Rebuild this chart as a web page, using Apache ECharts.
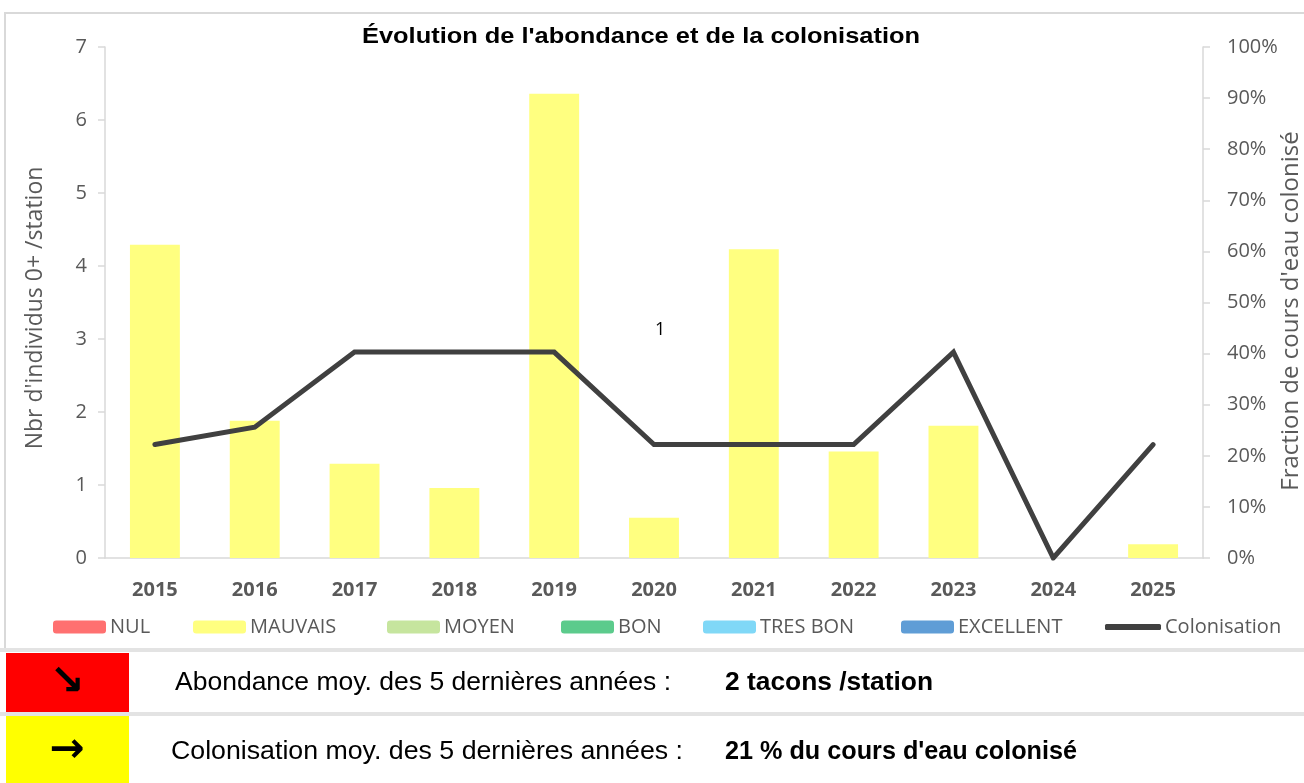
<!DOCTYPE html>
<html>
<head>
<meta charset="utf-8">
<script src="https://cdn.jsdelivr.net/npm/echarts@6/dist/echarts.min.js"></script>
<style>
  html, body { margin: 0; padding: 0; background: #fff; }
  #chart { width: 1304px; height: 783px; }
</style>
</head>
<body>
<div id="chart"></div>
<script>
// data
var years = ['2015', '2016', '2017', '2018', '2019', '2020', '2021', '2022', '2023', '2024', '2025'];
var abondance = [4.29, 1.88, 1.29, 0.96, 6.36, 0.55, 4.23, 1.46, 1.81, 0, 0.19];
var colonisation = [0.222, 0.256, 0.403, 0.403, 0.403, 0.222, 0.222, 0.222, 0.403, 0, 0.222];
var classes = ['NUL', 'MAUVAIS', 'MOYEN', 'BON', 'TRES BON', 'EXCELLENT'];
var classColors = ['#FF7070', '#FFFF80', '#C6E59E', '#5CCB8C', '#80D8F7', '#5F9DD6'];
var legendLeft = [48, 188, 382, 556, 698, 896, 1100];

var grey = '#595959';
var chart = echarts.init(document.getElementById('chart'));

// Calibri is not there: squeeze/stretch a Liberation text to the width seen in the picture
var ctx = document.createElement('canvas').getContext('2d');
function fitText(txt, x, y, size, bold, width, align) {
  ctx.font = (bold ? 'bold ' : '') + size + 'px "Liberation Sans"';
  var w = ctx.measureText(txt).width;
  return {
    type: 'text',
    x: x,
    y: y,
    scaleX: width / w,
    style: {
      text: txt, fill: '#000', fontSize: size, fontWeight: bold ? 'bold' : 'normal',
      fontFamily: 'Liberation Sans', align: align || 'left', verticalAlign: 'middle'
    }
  };
}

// vertical axis titles, placed by hand
function axisTitle(txt, x, y, size) {
  return {
    type: 'text',
    x: x,
    y: y,
    rotation: Math.PI / 2,
    style: { text: txt, fill: grey, fontSize: size, fontFamily: 'Open Sans', align: 'center', verticalAlign: 'middle' }
  };
}

var series = classes.map(function (name, i) {
  return {
    name: name,
    type: 'bar',
    stack: 'abondance',
    barWidth: '50%',
    itemStyle: { color: classColors[i] },
    data: name === 'MAUVAIS' ? abondance : []
  };
});
series.push({
  name: 'Colonisation',
  type: 'line',
  yAxisIndex: 1,
  showSymbol: false,
  symbol: 'none',
  lineStyle: { color: '#404040', width: 5, cap: 'round', join: 'miter' },
  itemStyle: { color: '#404040' },
  data: colonisation
});

var legends = classes.concat(['Colonisation']).map(function (name, i) {
  var isLine = name === 'Colonisation';
  return {
    data: [isLine ? { name: name, icon: 'roundRect' } : name],
    left: legendLeft[i],
    top: 612,
    itemWidth: isLine ? 56 : 53,
    itemHeight: isLine ? 6 : 13,
    itemGap: 0,
    selectedMode: false,
    textStyle: { color: grey, fontSize: 20, fontFamily: 'Open Sans', padding: [0, 0, 0, -1] }
  };
});

chart.setOption({
  animation: false,
  legend: legends,
  grid: { left: 105, right: 101, top: 47, bottom: 225, outerBoundsMode: 'none', containLabel: false },
  xAxis: {
    type: 'category',
    data: years,
    axisTick: { show: false },
    axisLine: { lineStyle: { color: '#D9D9D9', width: 1.5 } },
    axisLabel: { color: grey, fontSize: 20, fontWeight: 'bold', fontFamily: 'Open Sans', margin: 22 }
  },
  yAxis: [
    {
      type: 'value',
      min: 0,
      max: 7,
      interval: 1,
      axisLine: { show: true, lineStyle: { color: '#D9D9D9', width: 1.5 } },
      axisTick: { show: true, length: 7, lineStyle: { color: '#D9D9D9', width: 1.5 } },
      splitLine: { show: false },
      axisLabel: { color: grey, fontSize: 20, fontFamily: 'Open Sans', margin: 18 }
    },
    {
      type: 'value',
      min: 0,
      max: 1,
      interval: 0.1,
      position: 'right',
      axisLine: { show: true, lineStyle: { color: '#D9D9D9', width: 1.5 } },
      axisTick: { show: true, length: 7, lineStyle: { color: '#D9D9D9', width: 1.5 } },
      splitLine: { show: false },
      axisLabel: {
        color: grey, fontSize: 20, fontFamily: 'Open Sans', margin: 24,
        formatter: function (v) { return Math.round(v * 100) + '%'; }
      }
    }
  ],
  series: series,
  graphic: [
    // frame of the chart area
    { type: 'rect', shape: { x: 5, y: 13, width: 1310, height: 637 }, style: { fill: 'none', stroke: '#D9D9D9', lineWidth: 2 }, silent: true },
    // title
    fitText("Évolution de l'abondance et de la colonisation", 362, 37, 22, true, 558),
    axisTitle("Nbr d'individus 0+ /station", 35, 308, 23),
    axisTitle("Fraction de cours d'eau colonisé", 1291, 311, 24),
    // stray data label
    { type: 'text', left: 655, top: 321, style: { text: '1', fill: '#000', fontSize: 18, fontFamily: 'Open Sans' } },
    // summary table
    { type: 'rect', shape: { x: 0, y: 648, width: 1304, height: 4 }, style: { fill: '#E3E3E3' } },
    { type: 'rect', shape: { x: 0, y: 712, width: 1304, height: 4 }, style: { fill: '#E3E3E3' } },
    { type: 'rect', shape: { x: 6, y: 653, width: 123, height: 59 }, style: { fill: '#FF0000' } },
    { type: 'rect', shape: { x: 6, y: 716, width: 123, height: 67 }, style: { fill: '#FFFF00' } },
    { type: 'text', x: 67, y: 683, style: { text: '↘', fill: '#000', fontSize: 42, fontWeight: 'bold', fontFamily: 'DejaVu Sans', align: 'center', verticalAlign: 'middle' } },
    { type: 'text', x: 67, y: 751, style: { text: '→', fill: '#000', fontSize: 42, fontWeight: 'bold', fontFamily: 'DejaVu Sans', align: 'center', verticalAlign: 'middle' } },
    fitText('Abondance moy. des 5 dernières années :', 175, 683, 25, false, 496),
    fitText('2 tacons /station', 725, 683, 25, true, 208),
    fitText('Colonisation moy. des 5 dernières années :', 171, 752, 25, false, 512),
    fitText("21 % du cours d'eau colonisé", 725, 752, 25, true, 352)
  ]
});
</script>
</body>
</html>
